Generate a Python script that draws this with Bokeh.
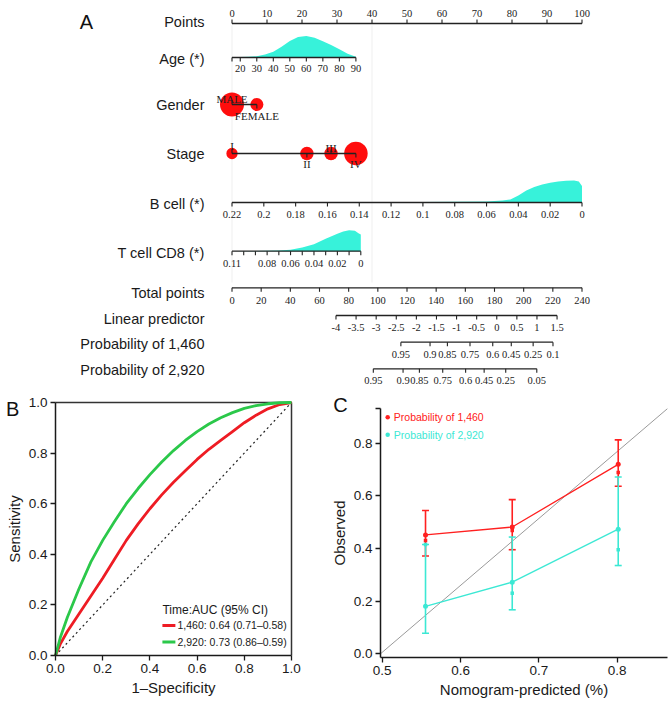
import numpy as np
from bokeh.plotting import figure
from bokeh.layouts import column, row
from bokeh.models import Range1d, FixedTicker, PrintfTickFormatter
from bokeh.core.properties import value
from bokeh.embed import file_html
from bokeh.resources import INLINE

# ---------------- data ----------------
points_ticks = [0, 10, 20, 30, 40, 50, 60, 70, 80, 90, 100]

age_range = [15, 90]
age_points_range = [0, 35.4]
age_ticks = [20, 30, 40, 50, 60, 70, 80, 90]
age_grid = [15, 20, 25, 30, 35, 40, 45, 50, 55, 60, 65, 70, 75, 80, 85, 90]
age_density = [0.01, 0.02, 0.035, 0.06, 0.14, 0.27, 0.5, 0.77, 0.95, 1.0, 0.92, 0.76, 0.58, 0.38, 0.17, 0.04]

gender_levels = ["MALE", "FEMALE"]
gender_points = [0, 7.1]
gender_n = [270, 80]

stage_levels = ["I", "II", "III", "IV"]
stage_points = [0, 21.4, 28.3, 35.4]
stage_n = [60, 85, 85, 260]

bcell_range = [0.22, 0.0]
bcell_points_range = [0, 100]
bcell_ticks = [0.22, 0.2, 0.18, 0.16, 0.14, 0.12, 0.1, 0.08, 0.06, 0.04, 0.02, 0.0]
bcell_labels = ["0.22", "0.2", "0.18", "0.16", "0.14", "0.12", "0.1", "0.08", "0.06", "0.04", "0.02", "0"]
bcell_grid = [0.22, 0.18, 0.14, 0.1, 0.08, 0.06, 0.05, 0.045, 0.04, 0.035, 0.03, 0.025, 0.02, 0.015, 0.01, 0.005, 0.002, 0.0]
bcell_density = [0.005, 0.01, 0.015, 0.02, 0.03, 0.05, 0.09, 0.14, 0.32, 0.55, 0.7, 0.82, 0.9, 0.96, 0.99, 1.0, 0.95, 0.75]

tcell_range = [0.11, 0.0]
tcell_points_range = [0, 36.8]
tcell_ticks = [0.11, 0.10, 0.09, 0.08, 0.07, 0.06, 0.05, 0.04, 0.03, 0.02, 0.01, 0.0]
tcell_label_values = [0.11, 0.08, 0.06, 0.04, 0.02, 0.0]
tcell_labels = ["0.11", "0.08", "0.06", "0.04", "0.02", "0"]
tcell_grid = [0.11, 0.09, 0.07, 0.06, 0.05, 0.04, 0.035, 0.03, 0.025, 0.02, 0.015, 0.01, 0.005, 0.002, 0.0]
tcell_density = [0.0, 0.01, 0.03, 0.07, 0.17, 0.33, 0.45, 0.58, 0.7, 0.82, 0.92, 0.98, 0.95, 0.84, 0.78]

total_ticks = [0, 20, 40, 60, 80, 100, 120, 140, 160, 180, 200, 220, 240]
total_range = [0, 240]

lp_ticks = [-4, -3.5, -3, -2.5, -2, -1.5, -1, -0.5, 0, 0.5, 1, 1.5]
lp_labels = ["-4", "-3.5", "-3", "-2.5", "-2", "-1.5", "-1", "-0.5", "0", "0.5", "1", "1.5"]
lp_range = [-4, 1.5]
lp_total_range = [71.3, 222.9]

p1460_labels = ["0.95", "0.9", "0.85", "0.75", "0.6", "0.45", "0.25", "0.1"]
p1460_total = [115.8, 135.8, 147.7, 163.2, 178.8, 191.5, 206.5, 220.1]
p2920_labels = ["0.95", "0.9", "0.85", "0.75", "0.6", "0.45", "0.25", "0.05"]
p2920_total = [96.9, 117.3, 128.5, 144.5, 160.2, 172.9, 187.7, 209.0]

row_names = ["Points", "Age (*)", "Gender", "Stage", "B cell (*)", "T cell CD8 (*)",
             "Total points", "Linear predictor", "Probability of 1,460", "Probability of 2,920"]

roc_fpr = [0, 0.02, 0.05, 0.1, 0.15, 0.2, 0.25, 0.3, 0.35, 0.4, 0.45, 0.5, 0.55, 0.6, 0.65, 0.7, 0.75, 0.8, 0.85, 0.9, 0.95, 1.0]
roc_sens_1460 = [0, 0.045, 0.095, 0.165, 0.235, 0.305, 0.38, 0.455, 0.52, 0.58, 0.635, 0.685, 0.73, 0.775, 0.815, 0.85, 0.885, 0.92, 0.95, 0.975, 0.992, 1.0]
roc_sens_2920 = [0, 0.07, 0.15, 0.265, 0.37, 0.455, 0.53, 0.6, 0.66, 0.715, 0.765, 0.81, 0.85, 0.885, 0.915, 0.94, 0.96, 0.977, 0.988, 0.995, 0.999, 1.0]
roc_axis = [0.0, 1.0]
roc_legend_title = "Time:AUC (95% CI)"
roc_legend = ["1,460: 0.64 (0.71\u20130.58)", "2,920: 0.73 (0.86\u20130.59)"]

cal_pred = [0.5553, 0.666, 0.8013]
obs_1460 = [0.451, 0.481, 0.719]
lo_1460 = [0.371, 0.395, 0.636]
hi_1460 = [0.544, 0.585, 0.812]
corr_1460 = [0.43, 0.468, 0.688]
obs_2920 = [0.18, 0.272, 0.473]
lo_2920 = [0.078, 0.167, 0.335]
hi_2920 = [0.415, 0.443, 0.671]
corr_2920 = [0.415, 0.23, 0.395]
cal_x_axis = [0.4978, 0.864]      # extent of the x axis
cal_y_axis = [-0.015, 0.93]       # extent of the y axis
cal_x_ticks = [0.5, 0.6, 0.7, 0.8]
cal_y_ticks = [0.0, 0.2, 0.4, 0.6, 0.8]
cal_legend = ["Probability of 1,460", "Probability of 2,920"]

# ---------------- styles ----------------
SANS = "Liberation Sans"
SERIF = "Liberation Serif"
AXC = "#222222"
TURQ = "#37f2da"
RED = "#ff0d0d"
ROC_RED = "#ee1c24"
ROC_GREEN = "#2bc84a"
CAL_RED = "#ff2020"
CAL_CYAN = "#3ce8d4"
LETTER = "20px"


def lin(v, r, pr):
    v = np.asarray(v, dtype=float)
    return pr[0] + (v - r[0]) / (r[1] - r[0]) * (pr[1] - pr[0])


def span_range(v0, p0, v1, p1, c_start, c_end):
    """data values at canvas pixels c_start / c_end given two anchor pixels"""
    s = (v1 - v0) / (p1 - p0)
    return Range1d(start=v0 + (c_start - p0) * s, end=v0 + (c_end - p0) * s)


# ---------------- panel A (nomogram) ----------------
X0, PPX = 231.5, 3.5          # screen px of 0 points, px per point
A_H = 388


def px2pt(px):
    return (px - X0) / PPX


pA = figure(width=670, height=A_H, x_range=Range1d(px2pt(0), px2pt(670)),
            y_range=Range1d(A_H, 0), output_backend="svg", toolbar_location=None,
            min_border=0)
pA.axis.visible = False
pA.grid.visible = False
pA.outline_line_color = None


def seg(p, x0, y0, x1, y1, color=AXC, width=1.3):
    p.segment(x0=list(x0), y0=list(y0), x1=list(x1), y1=list(y1), line_color=color, line_width=width)


def hax(p, tick_x, y, direction, lab_x=None, labels=None, lab_y=None, tick_len=4, size="10.5px"):
    tick_x = list(np.asarray(tick_x, dtype=float))
    n = len(tick_x)
    seg(p, [min(tick_x)], [y], [max(tick_x)], [y])
    seg(p, tick_x, [y] * n, tick_x, [y + direction * tick_len] * n, width=1.1)
    if labels is not None:
        lab_x = list(np.asarray(lab_x, dtype=float))
        p.text(x=lab_x, y=[lab_y] * len(lab_x), text=labels, text_align="center",
               text_baseline="middle", text_font=value(SERIF), text_font_size=size,
               text_color=AXC)


# faint vertical guide lines
seg(pA, [0, 40], [25, 25], [0, 40], [282, 282], color="#efefef", width=1)

# row labels
row_y = [21, 58, 104, 153, 203, 252, 292, 318, 343, 369]
pA.text(x=[px2pt(204)] * len(row_names), y=row_y, text=row_names, text_align="right",
        text_baseline="middle", text_font=value(SANS), text_font_size="14.5px", text_color="#1a1a1a")
pA.text(x=[px2pt(86)], y=[21], text=["A"], text_align="center", text_baseline="middle",
        text_font=value(SANS), text_font_size=LETTER, text_color="#111111")

# Points
hax(pA, points_ticks, 23, -1, points_ticks, [str(v) for v in points_ticks], 13)

# Age
AGE_Y, DH = 57, 21.5
ax_age = lin(age_grid, age_range, age_points_range)
pA.patch(x=list(ax_age) + [ax_age[-1], ax_age[0]],
         y=[AGE_Y - d * DH for d in age_density] + [AGE_Y, AGE_Y],
         fill_color=TURQ, line_color=None)
hax(pA, lin([age_range[0]] + age_ticks, age_range, age_points_range), AGE_Y, 1,
    lin(age_ticks, age_range, age_points_range), [str(a) for a in age_ticks], 68)

# Gender
GY = 104
gr = [0.73 * np.sqrt(n) for n in gender_n]
pA.scatter(x=gender_points, y=[GY] * 2, size=[2 * r for r in gr], marker="circle",
           fill_color=RED, line_color=None)
seg(pA, [gender_points[0]], [GY], [gender_points[-1]], [GY])
seg(pA, gender_points, [GY, GY], gender_points, [GY - 4, GY + 4], width=1.1)
pA.text(x=gender_points, y=[GY - 5.5, GY + 11], text=gender_levels, text_align="center",
        text_baseline="middle", text_font=value(SERIF), text_font_size="11px", text_color=AXC)

# Stage
SY = 153
sr = [0.73 * np.sqrt(n) for n in stage_n]
pA.scatter(x=stage_points, y=[SY] * 4, size=[2 * r for r in sr], marker="circle",
           fill_color=RED, line_color=None)
seg(pA, [stage_points[0]], [SY], [stage_points[-1]], [SY])
sdir = [-1, 1, -1, 1]
seg(pA, stage_points, [SY] * 4, stage_points, [SY + 4 * d for d in sdir], width=1.1)
pA.text(x=stage_points, y=[SY - 8, SY + 10, SY - 6, SY + 10], text=stage_levels, text_align="center",
        text_baseline="middle", text_font=value(SERIF), text_font_size="11px", text_color=AXC)

# B cell
BY = 202
bx = lin(bcell_grid, bcell_range, bcell_points_range)
pA.patch(x=list(bx) + [bx[-1], bx[0]],
         y=[BY - d * 22 for d in bcell_density] + [BY, BY], fill_color=TURQ, line_color=None)
hax(pA, lin(bcell_ticks, bcell_range, bcell_points_range), BY, 1,
    lin(bcell_ticks, bcell_range, bcell_points_range), bcell_labels, 214)

# T cell CD8
TY = 250.7
tx = lin(tcell_grid, tcell_range, tcell_points_range)
pA.patch(x=list(tx) + [tx[-1], tx[0]],
         y=[TY - d * 21.4 for d in tcell_density] + [TY, TY], fill_color=TURQ, line_color=None)
hax(pA, lin(tcell_ticks, tcell_range, tcell_points_range), TY, 1,
    lin(tcell_label_values, tcell_range, tcell_points_range), tcell_labels, 263)

# Total points
tot2pt = lambda t: lin(t, total_range, [0, 100])
hax(pA, tot2pt(total_ticks), 287.3, 1, tot2pt(total_ticks), [str(t) for t in total_ticks], 300)

# Linear predictor
lpx = tot2pt(lin(lp_ticks, lp_range, lp_total_range))
hax(pA, lpx, 315, 1, lpx, lp_labels, 326.7)

# Probabilities
p1x = tot2pt(p1460_total)
hax(pA, p1x, 341.7, 1, p1x, p1460_labels, 354)
p2x = tot2pt(p2920_total)
hax(pA, p2x, 368.3, 1, p2x, p2920_labels, 380)


# ---------------- axes styling for B and C ----------------
def style_axis(ax, ticks, bounds, loc, label):
    ax.ticker = FixedTicker(ticks=ticks)
    ax.formatter = PrintfTickFormatter(format="%.1f")
    ax.bounds = tuple(bounds)
    ax.fixed_location = loc
    ax.major_tick_out = 5
    ax.major_tick_in = 0
    ax.minor_tick_line_color = None
    ax.axis_line_color = "#1a1a1a"
    ax.axis_line_width = 1.5
    ax.major_tick_line_color = "#1a1a1a"
    ax.major_tick_line_width = 1.3
    ax.major_label_text_font = SANS
    ax.major_label_text_font_size = "13.5px"
    ax.major_label_text_color = "#1a1a1a"
    ax.major_label_standoff = 3
    ax.axis_label = label
    ax.axis_label_text_font = SANS
    ax.axis_label_text_font_size = "15px"
    ax.axis_label_text_font_style = "normal"
    ax.axis_label_text_color = "#1a1a1a"
    ax.axis_label_standoff = 3


ROW_TOP, ROW_H = A_H, 312
B_W, C_W = 326, 344

# ---------------- panel B (ROC) ----------------
pB = figure(width=B_W, height=ROW_H,
            x_range=span_range(0, 55, 1, 291, 0, B_W),
            y_range=span_range(0, 655, 1, 402, ROW_TOP + ROW_H, ROW_TOP),
            output_backend="svg", toolbar_location=None, min_border=0)
pB.grid.visible = False
pB.outline_line_color = None
style_axis(pB.xaxis[0], [0, 0.2, 0.4, 0.6, 0.8, 1.0], roc_axis, roc_axis[0], "1\u2013Specificity")
style_axis(pB.yaxis[0], [0, 0.2, 0.4, 0.6, 0.8, 1.0], roc_axis, roc_axis[0], "Sensitivity")
# box top / right edges
pB.line(roc_axis, [roc_axis[1]] * 2, line_color="#333333", line_width=1.5)
pB.line([roc_axis[1]] * 2, roc_axis, line_color="#333333", line_width=1.5)
pB.line(roc_axis, roc_axis, line_color="#222222", line_width=1.2, line_dash="2 3")
pB.line(roc_fpr, roc_sens_1460, line_color=ROC_RED, line_width=2.8)
pB.line(roc_fpr, roc_sens_2920, line_color=ROC_GREEN, line_width=2.8)
pB.text(x=[0.453], y=[0.178], text=[roc_legend_title], text_align="left", text_baseline="middle",
        text_font=value(SANS), text_font_size="12px", text_color="#1a1a1a")
pB.segment(x0=[0.453, 0.453], y0=[0.119, 0.053], x1=[0.508, 0.508], y1=[0.119, 0.053],
           line_color=[ROC_RED, ROC_GREEN], line_width=3)
pB.text(x=[0.517, 0.517], y=[0.119, 0.053], text=roc_legend, text_align="left", text_baseline="middle",
        text_font=value(SANS), text_font_size="10.5px", text_color="#1a1a1a")
pB.text(x=[-0.182], y=[0.976], text=["B"], text_align="center", text_baseline="middle",
        text_font=value(SANS), text_font_size=LETTER, text_color="#111111")

# ---------------- panel C (calibration) ----------------
pC = figure(width=C_W, height=ROW_H,
            x_range=span_range(0.5, 381.7, 0.8, 616.7, B_W, B_W + C_W),
            y_range=span_range(0.0, 653.3, 0.8, 442.5, ROW_TOP + ROW_H, ROW_TOP),
            output_backend="svg", toolbar_location=None, min_border=0)
pC.grid.visible = False
pC.outline_line_color = None
style_axis(pC.xaxis[0], cal_x_ticks, cal_x_axis, cal_y_axis[0], "Nomogram-predicted (%)")
style_axis(pC.yaxis[0], cal_y_ticks + [cal_y_axis[1]], cal_y_axis, cal_x_axis[0], "Observed")
pC.yaxis[0].major_label_overrides = {cal_y_axis[1]: ""}
pC.line(cal_x_axis, [cal_y_axis[0] + 0.015, cal_y_axis[1]], line_color="#9a9a9a", line_width=1)

for obs, lo, hi, corr, col in ((obs_1460, lo_1460, hi_1460, corr_1460, CAL_RED),
                               (obs_2920, lo_2920, hi_2920, corr_2920, CAL_CYAN)):
    pC.segment(x0=cal_pred, y0=lo, x1=cal_pred, y1=hi, line_color=col, line_width=1.6)
    pC.scatter(x=cal_pred * 2, y=lo + hi, marker="dash", size=7, line_color=col, line_width=1.6)
    pC.line(cal_pred, obs, line_color=col, line_width=1.3)
    pC.scatter(x=cal_pred, y=obs, marker="circle", size=5, fill_color=col, line_color=None)
    pC.scatter(x=cal_pred, y=corr, marker="square", size=3.5, fill_color=col, line_color=None)

pC.scatter(x=[0.507, 0.507], y=[0.898, 0.831], marker="circle", size=4.5,
           fill_color=[CAL_RED, CAL_CYAN], line_color=None)
pC.text(x=[0.5148, 0.5148], y=[0.898, 0.831], text=cal_legend, text_align="left", text_baseline="middle",
        text_font=value(SANS), text_font_size="10.5px", text_color=[CAL_RED, CAL_CYAN])
pC.text(x=[0.4467], y=[0.946], text=["C"], text_align="center", text_baseline="middle",
        text_font=value(SANS), text_font_size=LETTER, text_color="#111111")

layout = column(pA, row(pB, pC))
open("out.html", "w").write(file_html(layout, INLINE))
